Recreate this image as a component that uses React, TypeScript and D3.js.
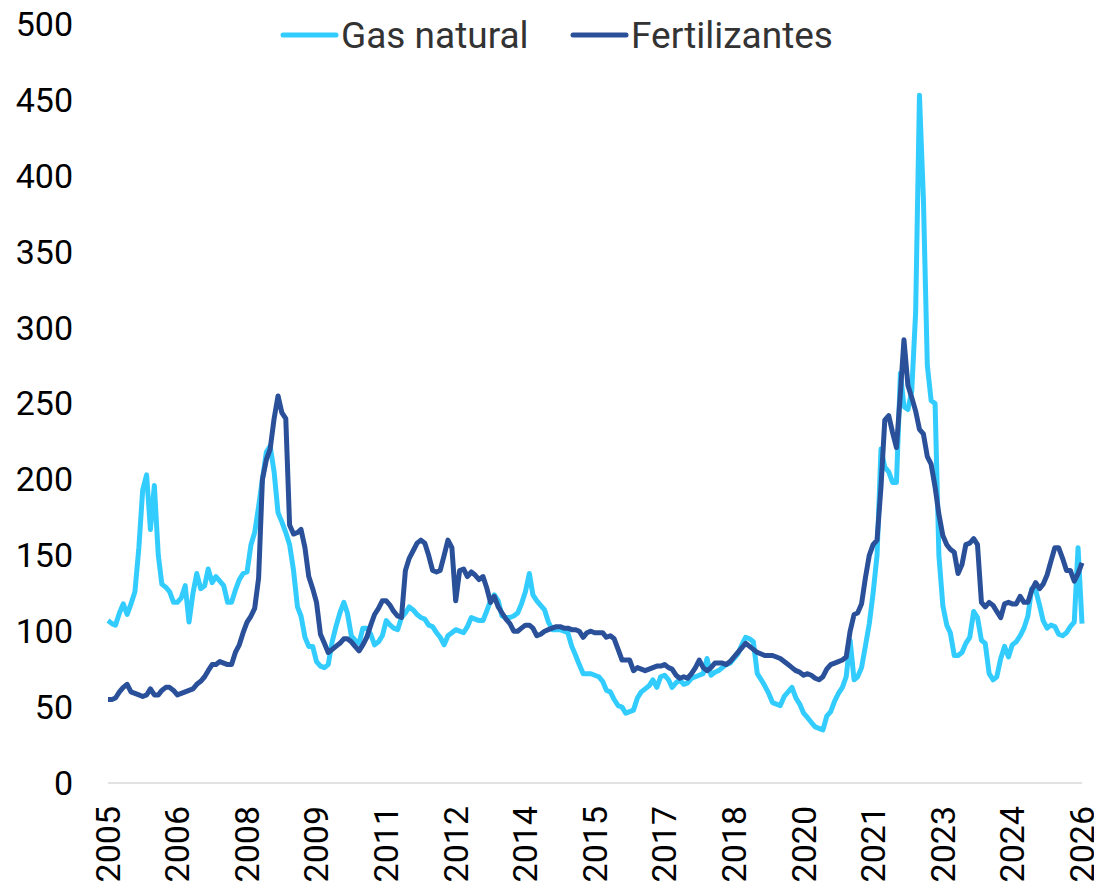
import * as d3 from "d3";

// monthly index values, Jan 2005 .. Jan 2026
const gasNatural = [
  107, 105, 104, 112, 118, 111, 118, 126, 155, 193, 203, 167,
  196, 150, 131, 129, 126, 119, 119, 122, 130, 106, 125, 138,
  128, 130, 141, 132, 136, 133, 130, 119, 119, 127, 134, 138,
  139, 157, 165, 182, 200, 218, 222, 205, 178, 172, 165, 157,
  140, 116, 110, 96, 90, 90, 80, 77, 76, 78, 93, 103,
  112, 119, 112, 97, 94, 92, 102, 102, 98, 91, 93, 97,
  107, 104, 102, 101, 109, 112, 116, 114, 111, 109, 108, 104,
  103, 99, 96, 91, 97, 99, 101, 100, 99, 103, 109, 108,
  107, 107, 113, 120, 124, 120, 110, 109, 109, 110, 112, 118,
  126, 138, 124, 120, 117, 114, 106, 101, 101, 101, 100, 99,
  90, 84, 78, 72, 72, 72, 71, 70, 67, 61, 60, 55,
  51, 50, 46, 47, 48, 56, 60, 62, 64, 68, 63, 70,
  71, 68, 63, 66, 68, 65, 66, 69, 70, 71, 72, 82,
  71, 73, 74, 76, 78, 79, 82, 85, 91, 96, 95, 93,
  72, 68, 64, 59, 53, 52, 51, 57, 60, 63, 56, 52,
  46, 43, 40, 37, 36, 35, 44, 47, 54, 59, 63, 70,
  94, 68, 70, 76, 90, 105, 125, 150, 220, 208, 205, 198,
  198, 270, 248, 246, 258, 310, 453, 385, 275, 252, 250, 150,
  117, 104, 99, 84, 84, 86, 92, 96, 113, 109, 94, 92,
  72, 68, 70, 82, 90, 83, 91, 93, 97, 102, 110, 128,
  127, 117, 107, 102, 104, 103, 98, 97, 99, 103, 106, 155,
  105,
];

const fertilizantes = [
  55, 55, 56, 60, 63, 65, 60, 59, 58, 57, 58, 62,
  58, 58, 61, 63, 63, 61, 58, 59, 60, 61, 62, 65,
  67, 70, 74, 78, 78, 80, 79, 78, 78, 86, 91, 99,
  106, 110, 115, 135, 200, 213, 220, 240, 255, 244, 240, 170,
  164, 165, 167, 155, 136, 128, 119, 98, 92, 86, 88, 90,
  92, 95, 95, 93, 90, 87, 91, 96, 104, 111, 115, 120,
  120, 117, 113, 110, 109, 140, 148, 153, 158, 160, 158, 150,
  140, 139, 140, 150, 160, 155, 120, 140, 141, 136, 139, 137,
  134, 136, 129, 119, 123, 116, 112, 108, 105, 100, 100, 102,
  104, 104, 102, 97, 98, 100, 101, 102, 103, 103, 102, 102,
  101, 101, 100, 96, 99, 100, 99, 99, 99, 96, 97, 95,
  88, 81, 81, 81, 74, 76, 75, 74, 75, 76, 77, 77,
  78, 76, 75, 71, 69, 70, 69, 72, 76, 81, 76, 74,
  76, 79, 79, 79, 78, 80, 83, 86, 89, 92, 90, 88,
  86, 85, 84, 84, 84, 83, 82, 80, 78, 76, 74, 73,
  71, 72, 71, 69, 68, 70, 75, 78, 79, 80, 81, 83,
  100, 111, 112, 118, 135, 150, 157, 160, 195, 239, 242, 231,
  221, 257, 292, 262, 254, 245, 233, 230, 215, 210, 195, 177,
  163, 157, 154, 152, 138, 144, 157, 158, 161, 157, 119, 116,
  119, 117, 113, 109, 118, 119, 118, 118, 123, 119, 119, 127,
  132, 128, 131, 137, 146, 155, 155, 148, 140, 140, 133, 138,
  145,
];

const seriesNames = ["Gas natural", "Fertilizantes"];
const seriesColors = ["#33CCFF", "#2A5099"];
const yTicks = [0, 50, 100, 150, 200, 250, 300, 350, 400, 450, 500];
const tickStep = 18; // months between x labels

const W = 1094;
const H = 893;
const FONT = "Roboto, 'Noto Sans', sans-serif";

export default function App() {
  const start = new Date(Date.UTC(2005, 0, 1));
  const dates = gasNatural.map((_, i) => d3.utcMonth.offset(start, i));

  const x = d3
    .scaleUtc()
    .domain([dates[0], dates[dates.length - 1]])
    .range([108, 1082]);
  const y = d3.scaleLinear().domain([0, 500]).range([783, 24]);

  const line = d3
    .line<number>()
    .x((_, i) => x(dates[i]))
    .y((d) => y(d));

  const xTicks = d3.range(0, dates.length, tickStep).map((i) => dates[i]);

  // legend layout
  const legend = [
    { name: seriesNames[0], color: seriesColors[0], x0: 283 },
    { name: seriesNames[1], color: seriesColors[1], x0: 573 },
  ];

  return (
    <div style={{ position: "fixed", left: 0, top: 0 }}>
      <svg width={W} height={H} style={{ display: "block", background: "#fff" }}>
        {/* baseline */}
        <line
          x1={x(dates[0])}
          x2={x(dates[dates.length - 1])}
          y1={y(0)}
          y2={y(0)}
          stroke="#d9d9d9"
          strokeWidth={1.5}
        />

        {/* y labels */}
        {yTicks.map((t) => (
          <text
            key={t}
            x={73}
            y={y(t)}
            dy="0.35em"
            textAnchor="end"
            fontFamily={FONT}
            fontSize={34}
            fill="#000"
          >
            {t}
          </text>
        ))}

        {/* x labels */}
        {xTicks.map((d) => (
          <text
            key={d.toISOString()}
            transform={`translate(${x(d)},${806}) rotate(-90)`}
            dy="0.35em"
            textAnchor="end"
            fontFamily={FONT}
            fontSize={34}
            fill="#000"
          >
            {d.getUTCFullYear()}
          </text>
        ))}

        {/* series */}
        <path
          d={line(gasNatural) ?? ""}
          fill="none"
          stroke={seriesColors[0]}
          strokeWidth={5}
          strokeLinejoin="round"
        />
        <path
          d={line(fertilizantes) ?? ""}
          fill="none"
          stroke={seriesColors[1]}
          strokeWidth={5}
          strokeLinejoin="round"
        />

        {/* legend */}
        {legend.map((l) => (
          <g key={l.name}>
            <line
              x1={l.x0}
              x2={l.x0 + 53}
              y1={35}
              y2={35}
              stroke={l.color}
              strokeWidth={5}
              strokeLinecap="round"
            />
            <text
              x={l.x0 + 58}
              y={35}
              dy="0.35em"
              fontFamily={FONT}
              fontSize={37}
              fill="#333"
            >
              {l.name}
            </text>
          </g>
        ))}
      </svg>
    </div>
  );
}
